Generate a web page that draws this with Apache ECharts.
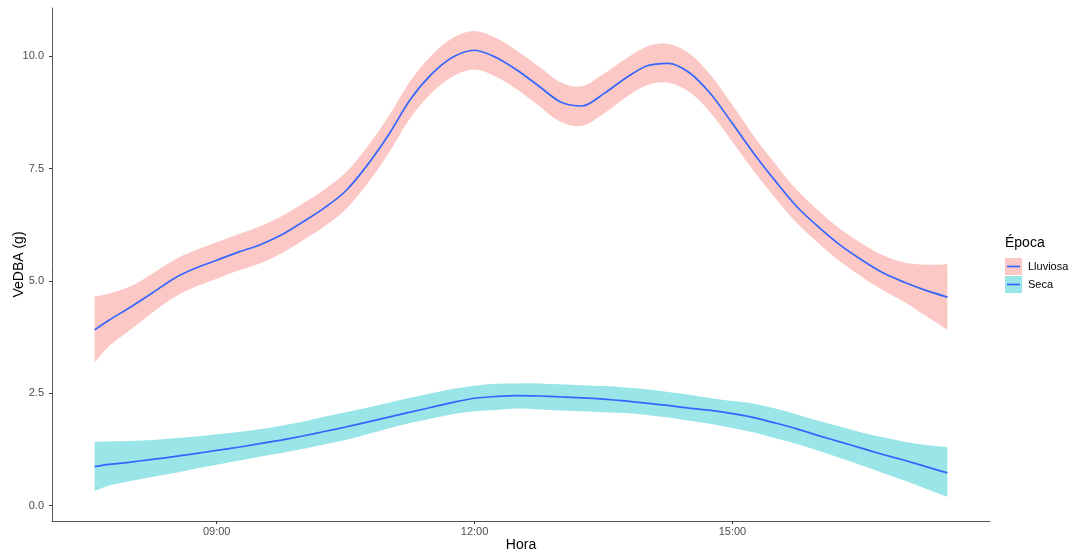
<!DOCTYPE html>
<html>
<head>
<meta charset="utf-8">
<script src="https://cdn.jsdelivr.net/npm/echarts@6/dist/echarts.min.js"></script>
<style>
html,body{margin:0;padding:0;background:#fff;}
#chart{width:1070px;height:552px;}
</style>
</head>
<body>
<div id="chart"></div>
<script>
// Hour of day (decimal)
const hours = [7.58,7.75,8.0,8.25,8.5,8.75,9.0,9.25,9.5,9.75,10.0,10.25,10.5,10.75,11.0,11.25,11.5,11.75,12.0,12.25,12.5,12.75,13.0,13.25,13.5,13.75,14.0,14.25,14.5,14.75,15.0,15.25,15.5,15.75,16.0,16.25,16.5,16.75,17.0,17.25,17.5];

// Lluviosa: fitted value, lower and upper confidence bounds
const lluviosaFit = [3.91,4.13,4.42,4.73,5.05,5.28,5.46,5.64,5.80,6.02,6.31,6.62,7.00,7.57,8.25,9.03,9.60,9.98,10.13,9.97,9.68,9.33,8.98,8.89,9.16,9.50,9.78,9.84,9.63,9.15,8.50,7.83,7.22,6.65,6.20,5.80,5.47,5.18,4.97,4.79,4.64];
const lluviosaLow = [3.18,3.55,3.92,4.29,4.63,4.87,5.05,5.23,5.39,5.61,5.90,6.21,6.59,7.16,7.84,8.62,9.18,9.55,9.70,9.54,9.25,8.89,8.54,8.45,8.72,9.07,9.35,9.41,9.20,8.73,8.09,7.44,6.84,6.28,5.84,5.44,5.10,4.79,4.53,4.22,3.91];
const lluviosaHigh = [4.65,4.72,4.88,5.16,5.46,5.68,5.86,6.04,6.21,6.43,6.72,7.03,7.41,7.98,8.66,9.44,10.02,10.41,10.56,10.40,10.11,9.77,9.42,9.33,9.60,9.93,10.21,10.27,10.06,9.57,8.91,8.22,7.60,7.02,6.56,6.16,5.84,5.57,5.41,5.36,5.37];

// Seca: fitted value, lower and upper confidence bounds
const secaFit = [0.87,0.92,0.97,1.03,1.09,1.16,1.23,1.30,1.38,1.46,1.55,1.65,1.75,1.86,1.97,2.08,2.19,2.30,2.39,2.43,2.45,2.44,2.42,2.40,2.37,2.33,2.28,2.23,2.17,2.12,2.05,1.96,1.84,1.71,1.56,1.42,1.28,1.14,1.01,0.87,0.73];
const secaLow = [0.33,0.45,0.55,0.64,0.72,0.82,0.91,1.00,1.09,1.17,1.26,1.36,1.46,1.59,1.72,1.84,1.94,2.04,2.10,2.13,2.16,2.14,2.12,2.10,2.08,2.06,2.02,1.96,1.89,1.82,1.73,1.63,1.50,1.37,1.22,1.06,0.90,0.73,0.56,0.38,0.20];
const secaHigh = [1.42,1.43,1.44,1.46,1.50,1.54,1.59,1.64,1.70,1.78,1.87,1.98,2.08,2.18,2.29,2.40,2.50,2.60,2.67,2.71,2.72,2.72,2.70,2.68,2.66,2.63,2.59,2.53,2.47,2.39,2.33,2.27,2.16,2.03,1.89,1.76,1.63,1.52,1.42,1.35,1.30];

const xTicks = [9, 12, 15];
const xTickLabels = ['09:00', '12:00', '15:00'];
const yTicks = [0, 2.5, 5, 7.5, 10];
const yTickLabels = ['0.0', '2.5', '5.0', '7.5', '10.0'];
const groups = ['Lluviosa', 'Seca'];

const FONT = '"Liberation Sans", Arial, sans-serif';
const pinkFill = 'rgba(248,118,109,0.4)';
const cyanFill = 'rgba(0,191,196,0.4)';
const lineBlue = '#3366FF';

const pair = (ys) => hours.map((h, i) => [h, ys[i]]);

// Catmull-Rom style smooth path through pixel points (rendering only)
function smoothSeg(pts, startWithMove) {
  let d = '';
  const n = pts.length;
  if (startWithMove) d += 'M' + pts[0][0] + ',' + pts[0][1];
  else d += 'L' + pts[0][0] + ',' + pts[0][1];
  const k = 1 / 6;
  for (let i = 0; i < n - 1; i++) {
    const p0 = pts[Math.max(i - 1, 0)], p1 = pts[i], p2 = pts[i + 1], p3 = pts[Math.min(i + 2, n - 1)];
    const c1x = p1[0] + (p2[0] - p0[0]) * k, c1y = p1[1] + (p2[1] - p0[1]) * k;
    const c2x = p2[0] - (p3[0] - p1[0]) * k, c2y = p2[1] - (p3[1] - p1[1]) * k;
    d += 'C' + c1x + ',' + c1y + ',' + c2x + ',' + c2y + ',' + p2[0] + ',' + p2[1];
  }
  return d;
}

function bandSeries(name, lo, hi, color) {
  return {
    name: name + '_band', type: 'custom', silent: true, z: 1,
    data: hours.map((h, i) => [h, lo[i], hi[i]]),
    encode: { x: 0, y: [1, 2] },
    renderItem: function (params, api) {
      if (params.dataIndex !== 0) return null;
      const up = hours.map((h, i) => api.coord([h, hi[i]]));
      const dn = hours.map((h, i) => api.coord([h, lo[i]])).reverse();
      const d = smoothSeg(up, true) + smoothSeg(dn, false) + 'Z';
      return { type: 'path', shape: { pathData: d }, style: { fill: color, stroke: null } };
    }
  };
}

const chart = echarts.init(document.getElementById('chart'), null, { renderer: 'canvas' });

const option = {
  backgroundColor: '#ffffff',
  animation: false,
  textStyle: { fontFamily: FONT },
  grid: { left: 52, right: 80, top: 8, bottom: 31, containLabel: false, outerBoundsMode: 'none' },
  xAxis: {
    type: 'value', min: 7.084, max: 17.996,
    name: 'Hora', nameLocation: 'middle', nameGap: 17, nameMoveOverlap: false,
    nameTextStyle: { fontFamily: FONT, fontSize: 14, color: '#000' },
    axisLine: { show: true, onZero: false, lineStyle: { color: '#555', width: 1 } },
    axisTick: { show: true, length: 3, customValues: xTicks, lineStyle: { color: '#333' } },
    axisLabel: { customValues: xTicks, margin: 5, fontFamily: FONT, fontSize: 11, color: '#4D4D4D',
      formatter: (v) => xTickLabels[xTicks.indexOf(v)] || '' },
    splitLine: { show: false }
  },
  yAxis: {
    type: 'value', min: -0.34, max: 11.07,
    name: 'VeDBA (g)', nameLocation: 'middle', nameGap: 26, nameRotate: 90, nameMoveOverlap: false,
    nameTextStyle: { fontFamily: FONT, fontSize: 14, color: '#000' },
    axisLine: { show: true, onZero: false, lineStyle: { color: '#555', width: 1 } },
    axisTick: { show: true, length: 3, customValues: yTicks, lineStyle: { color: '#333' } },
    axisLabel: { customValues: yTicks, margin: 8, fontFamily: FONT, fontSize: 11, color: '#4D4D4D',
      formatter: (v) => yTickLabels[yTicks.indexOf(v)] || '' },
    splitLine: { show: false }
  },
  series: [
    bandSeries(groups[0], lluviosaLow, lluviosaHigh, pinkFill),
    bandSeries(groups[1], secaLow, secaHigh, cyanFill),
    { name: groups[0], type: 'line', data: pair(lluviosaFit), smooth: 0.3, symbol: 'none',
      lineStyle: { color: lineBlue, width: 1.7 }, z: 3 },
    { name: groups[1], type: 'line', data: pair(secaFit), smooth: 0.3, symbol: 'none',
      lineStyle: { color: lineBlue, width: 1.7 }, z: 3 }
  ],
  graphic: [
    { type: 'text', left: 1005, top: 236, style: { text: 'Época', font: '14px ' + FONT, fill: '#000' } },
    { type: 'rect', shape: { x: 1005, y: 258, width: 17, height: 17 }, style: { fill: pinkFill } },
    { type: 'line', shape: { x1: 1007, y1: 266.5, x2: 1020, y2: 266.5 }, style: { stroke: lineBlue, lineWidth: 1.7 } },
    { type: 'text', left: 1028, top: 261, style: { text: groups[0], font: '11px ' + FONT, fill: '#000' } },
    { type: 'rect', shape: { x: 1005, y: 276, width: 17, height: 17 }, style: { fill: cyanFill } },
    { type: 'line', shape: { x1: 1007, y1: 284.5, x2: 1020, y2: 284.5 }, style: { stroke: lineBlue, lineWidth: 1.7 } },
    { type: 'text', left: 1028, top: 279, style: { text: groups[1], font: '11px ' + FONT, fill: '#000' } }
  ]
};
chart.setOption(option);
</script>
</body>
</html>
